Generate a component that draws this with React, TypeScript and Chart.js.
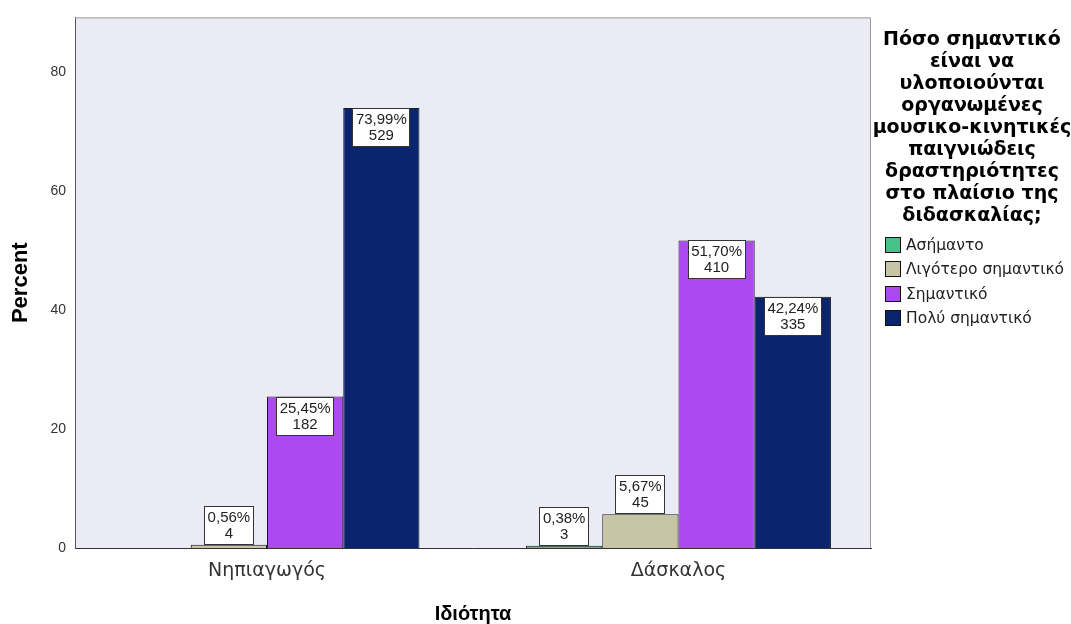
import React, { useEffect, useRef } from "react";
import { Chart, registerables } from "chart.js";

Chart.register(...registerables);

const FONT = '"Liberation Sans", Arial, sans-serif';
const WIDE = '"DejaVu Sans", Verdana, sans-serif';

const categories = ["Νηπιαγωγός", "Δάσκαλος"];
const seriesNames = ["Ασήμαντο", "Λιγότερο σημαντικό", "Σημαντικό", "Πολύ σημαντικό"];
const asimantoPct: (number | null)[] = [null, 0.38];
const ligoteroPct: (number | null)[] = [0.56, 5.67];
const simantikoPct: (number | null)[] = [25.45, 51.7];
const polyPct: (number | null)[] = [73.99, 42.24];
const asimantoN: (number | null)[] = [null, 3];
const ligoteroN: (number | null)[] = [4, 45];
const simantikoN: (number | null)[] = [182, 410];
const polyN: (number | null)[] = [529, 335];
const yTicks = [0, 20, 40, 60, 80];
const seriesColors = ["#47c38a", "#c8c4a6", "#ac4af0", "#0b246e"];
const legendTitle = [
  "Πόσο σημαντικό",
  "είναι να",
  "υλοποιούνται",
  "οργανωμένες",
  "μουσικο-κινητικές",
  "παιγνιώδεις",
  "δραστηριότητες",
  "στο πλαίσιο της",
  "διδασκαλίας;",
];

const pctSeries = [asimantoPct, ligoteroPct, simantikoPct, polyPct];
const countSeries = [asimantoN, ligoteroN, simantikoN, polyN];

const fmtPct = (v: number) => v.toFixed(2).replace(".", ",") + "%";

const decorPlugin = {
  id: "decor",
  beforeDraw(chart: any) {
    const { ctx, chartArea: a } = chart;
    ctx.save();
    ctx.fillStyle = "#ebebf5";
    ctx.fillRect(a.left, a.top, a.right - a.left, a.bottom - a.top);
    ctx.restore();
  },
  beforeDatasetsDraw(chart: any) {
    const { ctx, chartArea: a } = chart;
    ctx.save();
    ctx.strokeStyle = "#9a9a9a";
    ctx.lineWidth = 1;
    ctx.beginPath();
    ctx.moveTo(a.left, a.top + 0.5);
    ctx.lineTo(a.right - 0.5, a.top + 0.5);
    ctx.lineTo(a.right - 0.5, a.bottom);
    ctx.stroke();
    ctx.restore();
  },
  afterDatasetsDraw(chart: any) {
    const { ctx } = chart;
    ctx.save();
    ctx.font = `15px ${FONT}`;
    chart.data.datasets.forEach((ds: any, di: number) => {
      const meta = chart.getDatasetMeta(di);
      meta.data.forEach((el: any, k: number) => {
        const raw = ds.data[k];
        if (!raw) return;
        const j = raw.x;
        const pct = pctSeries[di][j];
        const n = countSeries[di][j];
        if (pct == null || n == null) return;
        const l1 = fmtPct(pct);
        const l2 = String(n);
        const w = Math.round(Math.max(ctx.measureText(l1).width, ctx.measureText(l2).width) + 7);
        const h = 39;
        const barH = el.base - el.y;
        const top = Math.round(barH >= h ? el.y : el.y - h);
        const left = Math.round(el.x - w / 2);
        ctx.fillStyle = "#ffffff";
        ctx.fillRect(left, top, w, h);
        ctx.strokeStyle = "#333333";
        ctx.lineWidth = 1;
        ctx.strokeRect(left + 0.5, top + 0.5, w - 1, h - 1);
        ctx.fillStyle = "#222222";
        ctx.textAlign = "center";
        ctx.textBaseline = "middle";
        ctx.fillText(l1, el.x, top + 12);
        ctx.fillText(l2, el.x, top + 28);
      });
    });
    ctx.restore();
  },
};

export default function App() {
  const canvasRef = useRef<HTMLCanvasElement | null>(null);

  useEffect(() => {
    document.body.style.margin = "0";
    const canvas = canvasRef.current;
    if (!canvas) return;
    const datasets = pctSeries.map((arr, i) => ({
      label: seriesNames[i],
      data: arr
        .map((v, j) => (v == null ? null : { x: j, y: v }))
        .filter((d) => d !== null),
      backgroundColor: seriesColors[i],
      borderColor: "#1a1a1a",
      borderWidth: 1,
      categoryPercentage: 0.741,
      barPercentage: 1,
    }));
    const chart = new Chart(canvas, {
      type: "bar",
      data: { datasets: datasets as any },
      options: {
        responsive: false,
        animation: false,
        devicePixelRatio: 1,
        layout: { padding: { top: 14, right: 200, left: 0, bottom: 0 } },
        plugins: {
          legend: { display: false },
          tooltip: { enabled: false },
        },
        scales: {
          x: {
            type: "linear",
            offset: false,
            min: -0.4666,
            max: 1.4678,
            grid: { display: false, drawTicks: false, offset: false },
            border: { display: true, color: "#333333", width: 1 },
            afterBuildTicks: (s: any) => {
              s.ticks = categories.map((_, i) => ({ value: i }));
            },
            ticks: {
              callback: (v: any) => categories[v] ?? "",
              font: { size: 19, family: WIDE },
              color: "#333333",
              padding: 12,
              autoSkip: false,
              maxRotation: 0,
            },
            title: {
              display: true,
              text: "Ιδιότητα",
              font: { size: 20, weight: "bold", family: FONT },
              color: "#000000",
              padding: { top: 0, bottom: -2 },
            },
            afterFit: (s: any) => {
              s.height = 76;
            },
          },
          y: {
            min: 0,
            max: 89.2,
            grid: { display: false, drawTicks: false },
            border: { display: true, color: "#555555", width: 1 },
            afterBuildTicks: (s: any) => {
              s.ticks = yTicks.map((v) => ({ value: v }));
            },
            ticks: {
              font: { size: 14, family: FONT },
              color: "#333333",
              padding: 9,
            },
            title: {
              display: true,
              text: "Percent",
              font: { size: 22, weight: "bold", family: FONT },
              color: "#000000",
              padding: { top: 8, bottom: 0 },
            },
            afterFit: (s: any) => {
              s.width = 75;
            },
          },
        },
      } as any,
      plugins: [decorPlugin],
    });
    return () => chart.destroy();
  }, []);

  return (
    <div style={{ position: "relative", width: 1071, height: 624, background: "#ffffff" }}>
      <canvas ref={canvasRef} width={1071} height={624} style={{ display: "block" }} />
      <div
        style={{
          position: "absolute",
          left: 872,
          top: 27,
          width: 200,
          textAlign: "center",
          fontFamily: WIDE,
          fontWeight: "bold",
          fontSize: 19,
          lineHeight: "22px",
          color: "#000",
          whiteSpace: "nowrap",
        }}
      >
        {legendTitle.map((t, i) => (
          <div key={i}>{t}</div>
        ))}
      </div>
      <div style={{ position: "absolute", left: 885, top: 233, fontFamily: WIDE, fontSize: 15.5, color: "#222", whiteSpace: "nowrap" }}>
        {seriesNames.map((name, i) => (
          <div key={i} style={{ display: "flex", alignItems: "center", height: 24.3 }}>
            <span
              style={{
                display: "inline-block",
                width: 14,
                height: 14,
                background: seriesColors[i],
                border: "1px solid #111",
                marginRight: 5,
                flexShrink: 0,
              }}
            />
            <span>{name}</span>
          </div>
        ))}
      </div>
    </div>
  );
}
